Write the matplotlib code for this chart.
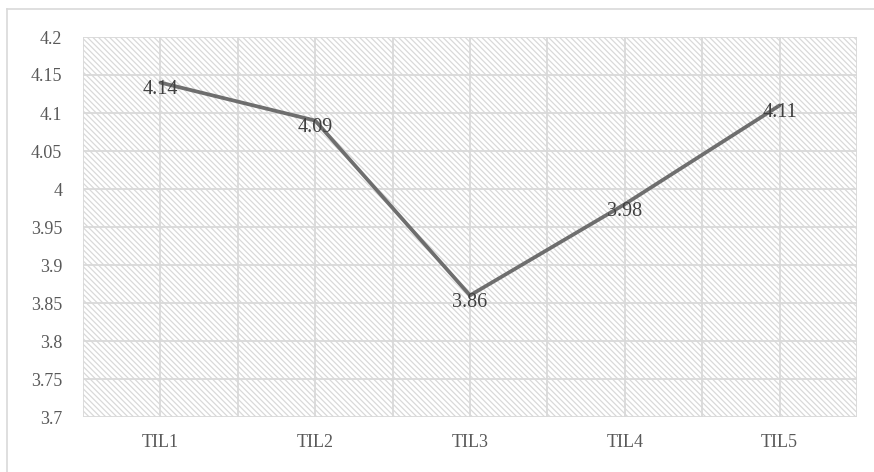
import matplotlib
matplotlib.use("Agg")
import matplotlib.pyplot as plt
from matplotlib.patches import Rectangle
from matplotlib.lines import Line2D
import numpy as np

categories = ["TIL1", "TIL2", "TIL3", "TIL4", "TIL5"]
values = [4.14, 4.09, 3.86, 3.98, 4.11]
y_ticks = [3.7, 3.75, 3.8, 3.85, 3.9, 3.95, 4.0, 4.05, 4.1, 4.15, 4.2]
y_tick_labels = ["3.7", "3.75", "3.8", "3.85", "3.9", "3.95", "4", "4.05", "4.1", "4.15", "4.2"]

plt.rcParams["font.family"] = ["Liberation Serif", "DejaVu Serif"]
plt.rcParams["hatch.linewidth"] = 0.9

fig = plt.figure(figsize=(8.74, 4.72), dpi=100)
W, H = 874, 472
ax = fig.add_axes([83 / W, 1 - 417 / H, (857 - 83) / W, (417 - 37) / H])

grid_c = "#d9d9d9"

# hatched plot-area background
ax.add_patch(Rectangle((0, 0), 1, 1, transform=ax.transAxes, facecolor="white",
                       edgecolor=grid_c, hatch="\\" * 6, linewidth=0, zorder=0))

x = np.arange(len(categories))
ax.set_xlim(-0.5, len(categories) - 0.5)
ax.set_ylim(3.7, 4.2)

for yv in y_ticks:
    ax.axhline(yv, color=grid_c, lw=1.3, zorder=1)
for xv in np.arange(-0.5, len(categories), 0.5):
    ax.axvline(xv, color=grid_c, lw=1.3, zorder=1)

ax.plot(x, values, color="#6e6e6e", lw=2.7, solid_capstyle="round",
        solid_joinstyle="round", zorder=3)

for xi, v in zip(x, values):
    ax.annotate(f"{v:.2f}", (xi, v), xytext=(0, -5), textcoords="offset points",
                ha="center", va="center", fontsize=14.5, color="#404040", zorder=4)

ax.set_yticks(y_ticks)
ax.set_yticklabels(y_tick_labels)
ax.set_xticks(x)
ax.set_xticklabels(categories)
ax.tick_params(axis="both", length=0, labelsize=13, colors="#595959")
ax.tick_params(axis="y", pad=15)
ax.tick_params(axis="x", pad=12)
for s in ax.spines.values():
    s.set_visible(False)

# chart frame (extends past the right and bottom edges)
fig.add_artist(Line2D([7 / W, 7 / W], [0, 1 - 9 / H], transform=fig.transFigure,
                      color="#d9d9d9", lw=1.2))
fig.add_artist(Line2D([7 / W, 1], [1 - 9 / H, 1 - 9 / H], transform=fig.transFigure,
                      color="#d9d9d9", lw=1.2))

fig.savefig("out.png", dpi=100)
